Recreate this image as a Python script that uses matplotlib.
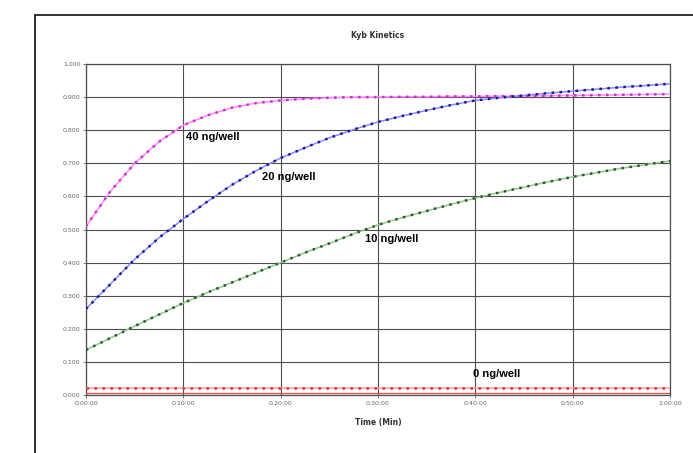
import matplotlib
matplotlib.use("Agg")
import matplotlib.pyplot as plt
from matplotlib.patches import Rectangle

# ---- data ----
time_min = [0, 2.5, 5, 7.5, 10, 12.5, 15, 17.5, 20, 22.5, 25, 27.5, 30,
            32.5, 35, 37.5, 40, 42.5, 45, 47.5, 50, 52.5, 55, 57.5, 60]
od_40 = [0.510, 0.615, 0.700, 0.765, 0.815, 0.845, 0.868, 0.882, 0.890, 0.895,
         0.898, 0.900, 0.900, 0.901, 0.901, 0.902, 0.902, 0.903, 0.903, 0.904,
         0.905, 0.906, 0.907, 0.908, 0.909]
od_20 = [0.260, 0.335, 0.410, 0.475, 0.532, 0.585, 0.635, 0.678, 0.716, 0.747,
         0.777, 0.802, 0.825, 0.843, 0.860, 0.876, 0.890, 0.898, 0.905, 0.912,
         0.918, 0.924, 0.930, 0.935, 0.940]
od_10 = [0.136, 0.172, 0.208, 0.243, 0.278, 0.310, 0.340, 0.370, 0.400, 0.430,
         0.458, 0.487, 0.514, 0.536, 0.556, 0.576, 0.595, 0.612, 0.628, 0.644,
         0.659, 0.672, 0.685, 0.696, 0.707]
od_0 = [0.020, 0.020, 0.020, 0.020, 0.020, 0.020, 0.020, 0.020, 0.020, 0.020,
        0.020, 0.020, 0.020, 0.020, 0.020, 0.020, 0.020, 0.020, 0.020, 0.020,
        0.020, 0.020, 0.020, 0.020, 0.020]
od_0b = [0.007] * 25

x_ticks = [0, 10, 20, 30, 40, 50, 60]
x_tick_labels = ["0:00:00", "0:10:00", "0:20:00", "0:30:00", "0:40:00", "0:50:00", "1:00:00"]
y_ticks = [0.0, 0.1, 0.2, 0.3, 0.4, 0.5, 0.6, 0.7, 0.8, 0.9, 1.0]
y_tick_labels = ["0.000", "0.100", "0.200", "0.300", "0.400", "0.500",
                 "0.600", "0.700", "0.800", "0.900", "1.000"]

title = "Kyb Kinetics"
x_label = "Time (Min)"
labels = ["40 ng/well", "20 ng/well", "10 ng/well", "0 ng/well"]

W, H = 693, 453
fig = plt.figure(figsize=(W / 100, H / 100), dpi=100)
fig.patch.set_facecolor("white")

# outer frame (partly cropped)
fig.patches.append(Rectangle((35 / W, -0.1), 1.2, 1 - 15 / H + 0.1,
                             transform=fig.transFigure, fill=False,
                             edgecolor="#222222", linewidth=1.3))

l, r, t, b = 86 / W, 670 / W, 1 - 64 / H, 1 - 395 / H
ax = fig.add_axes([l, b, r - l, t - b])

grid_c = "#4d4d4d"
ax.set_xlim(0, 60)
ax.set_ylim(0, 1.0)
ax.set_xticks(x_ticks)
ax.set_xticklabels(x_tick_labels)
ax.set_yticks(y_ticks)
ax.set_yticklabels(y_tick_labels)
ax.tick_params(labelsize=4.5, colors="#666666", length=2, width=0.6, pad=2)
ax.grid(True, color=grid_c, linewidth=0.8)
for s in ax.spines.values():
    s.set_color(grid_c)
    s.set_linewidth(0.9)

series = [
    (od_40, "#ff88ff", "#cc33cc"),
    (od_20, "#8888ff", "#1a1a99"),
    (od_10, "#88cc88", "#335533"),
    (od_0, "#ff9999", "#dd3333"),
]
for ys, lc, mc in series:
    ax.plot(time_min, ys, color=lc, linewidth=1.1, zorder=3)
    ax.plot(time_min, ys, color=mc, linewidth=1.8,
            linestyle=(0, (1.0, 2.2)), zorder=4)
ax.plot(time_min, od_0b, color="#ee4444", linewidth=0.9, zorder=3)

txt_kw = dict(fontsize=8, fontweight="bold", family="Liberation Sans",
              ha="left", va="center", color="black", zorder=5)
ax.text(10.3, 0.78, labels[0], **txt_kw)
ax.text(18.1, 0.659, labels[1], **txt_kw)
ax.text(28.7, 0.471, labels[2], **txt_kw)
ax.text(39.8, 0.063, labels[3], **txt_kw)

fig.text(378 / W, 1 - 36 / H, title, ha="center", va="center",
         fontsize=5.5, fontweight="bold", color="#333333")
fig.text(378 / W, 1 - 423 / H, x_label, ha="center", va="center",
         fontsize=5.5, fontweight="bold", color="#333333")

fig.savefig("out.png", dpi=100, facecolor="white")
